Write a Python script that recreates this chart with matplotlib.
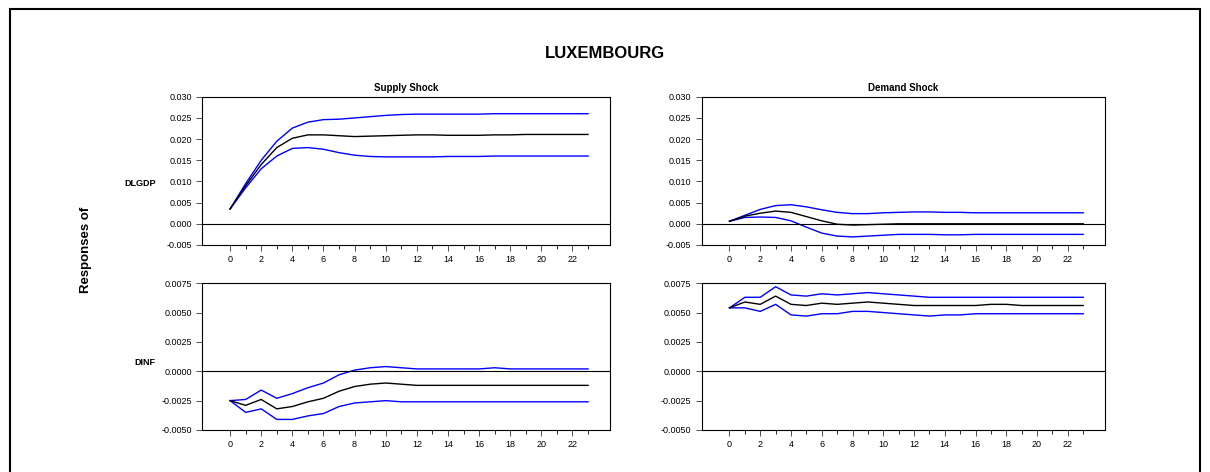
import numpy as np
import matplotlib
matplotlib.use("Agg")
import matplotlib.pyplot as plt
from matplotlib.ticker import MultipleLocator, FormatStrFormatter

plt.rcParams['font.family'] = ['Liberation Sans', 'DejaVu Sans']

periods = np.arange(24)

# supply shock -> DLGDP
sup_gdp_mid = [0.0035, 0.009, 0.014, 0.018, 0.0202, 0.021, 0.021, 0.0208, 0.0206, 0.0207, 0.0208, 0.0209,
               0.021, 0.021, 0.0209, 0.0209, 0.0209, 0.021, 0.021, 0.0211, 0.0211, 0.0211, 0.0211, 0.0211]
sup_gdp_up = [0.0035, 0.0095, 0.015, 0.0195, 0.0226, 0.024, 0.0246, 0.0247, 0.025, 0.0253, 0.0256, 0.0258,
              0.0259, 0.0259, 0.0259, 0.0259, 0.0259, 0.026, 0.026, 0.026, 0.026, 0.026, 0.026, 0.026]
sup_gdp_lo = [0.0035, 0.0085, 0.013, 0.016, 0.0178, 0.018, 0.0176, 0.0168, 0.0162, 0.0159, 0.0158, 0.0158,
              0.0158, 0.0158, 0.0159, 0.0159, 0.0159, 0.016, 0.016, 0.016, 0.016, 0.016, 0.016, 0.016]

# demand shock -> DLGDP
dem_gdp_mid = [0.0006, 0.0018, 0.0025, 0.003, 0.0027, 0.0017, 0.0007, -0.0001, -0.0003, -0.0002, -0.0001, 0.0,
               0.0, 0.0, 0.0, 0.0, 0.0, 0.0, 0.0, 0.0, 0.0, 0.0, 0.0, 0.0]
dem_gdp_up = [0.0006, 0.002, 0.0034, 0.0043, 0.0045, 0.004, 0.0033, 0.0027, 0.0024, 0.0024, 0.0026, 0.0027,
              0.0028, 0.0028, 0.0027, 0.0027, 0.0026, 0.0026, 0.0026, 0.0026, 0.0026, 0.0026, 0.0026, 0.0026]
dem_gdp_lo = [0.0006, 0.0015, 0.0016, 0.0015, 0.0007, -0.0008, -0.0022, -0.0029, -0.0031, -0.0029, -0.0027, -0.0025,
              -0.0025, -0.0025, -0.0026, -0.0026, -0.0025, -0.0025, -0.0025, -0.0025, -0.0025, -0.0025, -0.0025, -0.0025]

# supply shock -> DINF
sup_inf_mid = [-0.0025, -0.0029, -0.0024, -0.0032, -0.003, -0.0026, -0.0023, -0.0017, -0.0013, -0.0011, -0.001, -0.0011,
               -0.0012, -0.0012, -0.0012, -0.0012, -0.0012, -0.0012, -0.0012, -0.0012, -0.0012, -0.0012, -0.0012, -0.0012]
sup_inf_up = [-0.0025, -0.0024, -0.0016, -0.0023, -0.0019, -0.0014, -0.001, -0.0003, 0.0001, 0.0003, 0.0004, 0.0003,
              0.0002, 0.0002, 0.0002, 0.0002, 0.0002, 0.0003, 0.0002, 0.0002, 0.0002, 0.0002, 0.0002, 0.0002]
sup_inf_lo = [-0.0025, -0.0035, -0.0032, -0.0041, -0.0041, -0.0038, -0.0036, -0.003, -0.0027, -0.0026, -0.0025, -0.0026,
              -0.0026, -0.0026, -0.0026, -0.0026, -0.0026, -0.0026, -0.0026, -0.0026, -0.0026, -0.0026, -0.0026, -0.0026]

# demand shock -> DINF
dem_inf_mid = [0.0054, 0.0059, 0.0057, 0.0064, 0.0057, 0.0056, 0.0058, 0.0057, 0.0058, 0.0059, 0.0058, 0.0057,
               0.0056, 0.0056, 0.0056, 0.0056, 0.0056, 0.0057, 0.0057, 0.0056, 0.0056, 0.0056, 0.0056, 0.0056]
dem_inf_up = [0.0054, 0.0063, 0.0063, 0.0072, 0.0065, 0.0064, 0.0066, 0.0065, 0.0066, 0.0067, 0.0066, 0.0065,
              0.0064, 0.0063, 0.0063, 0.0063, 0.0063, 0.0063, 0.0063, 0.0063, 0.0063, 0.0063, 0.0063, 0.0063]
dem_inf_lo = [0.0054, 0.0054, 0.0051, 0.0057, 0.0048, 0.0047, 0.0049, 0.0049, 0.0051, 0.0051, 0.005, 0.0049,
              0.0048, 0.0047, 0.0048, 0.0048, 0.0049, 0.0049, 0.0049, 0.0049, 0.0049, 0.0049, 0.0049, 0.0049]

fig = plt.figure(figsize=(12.1, 4.72), dpi=100)

# border round the figure (runs off the bottom edge as in the original)
fig.patches.append(plt.Rectangle((0.008, -0.1), 0.984, 1.08, transform=fig.transFigure,
                                 fill=False, edgecolor='black', linewidth=1.5))

positions = {
    (0, 0): [0.167, 0.481, 0.337, 0.314],
    (0, 1): [0.580, 0.481, 0.333, 0.314],
    (1, 0): [0.167, 0.089, 0.337, 0.311],
    (1, 1): [0.580, 0.089, 0.333, 0.311],
}
panels = {
    (0, 0): (sup_gdp_mid, sup_gdp_up, sup_gdp_lo),
    (0, 1): (dem_gdp_mid, dem_gdp_up, dem_gdp_lo),
    (1, 0): (sup_inf_mid, sup_inf_up, sup_inf_lo),
    (1, 1): (dem_inf_mid, dem_inf_up, dem_inf_lo),
}

for (r, c), pos in positions.items():
    ax = fig.add_axes(pos)
    mid, up, lo = panels[(r, c)]
    ax.plot(periods, up, color='#0000ff', lw=1)
    ax.plot(periods, lo, color='#0000ff', lw=1)
    ax.plot(periods, mid, color='black', lw=1)
    ax.axhline(0, color='black', lw=0.8)
    ax.set_xlim(-1.8, 24.4)
    if r == 0:
        ax.set_ylim(-0.005, 0.030)
        ax.yaxis.set_major_locator(MultipleLocator(0.005))
        ax.yaxis.set_major_formatter(FormatStrFormatter('%.3f'))
    else:
        ax.set_ylim(-0.005, 0.0075)
        ax.yaxis.set_major_locator(MultipleLocator(0.0025))
        ax.yaxis.set_major_formatter(FormatStrFormatter('%.4f'))
    ax.set_xticks(np.arange(0, 24, 2))
    ax.set_xticks(np.arange(0, 24, 1), minor=True)
    ax.tick_params(labelsize=6.5, length=4, width=0.6, colors='#333333', labelcolor='black')
    ax.tick_params(which='minor', length=3, width=0.6)
    for s in ax.spines.values():
        s.set_linewidth(0.8)
    if r == 0:
        ax.set_title(['Supply Shock', 'Demand Shock'][c], fontsize=7, fontweight='bold', pad=4)

fig.text(0.5, 0.887, 'LUXEMBOURG', ha='center', va='center', fontsize=12, fontweight='bold')
fig.text(0.071, 0.47, 'Responses of', rotation=90, ha='center', va='center', fontsize=9.5, fontweight='bold')
fig.text(0.116, 0.612, 'DLGDP', ha='center', va='center', fontsize=6.5, fontweight='bold')
fig.text(0.12, 0.233, 'DINF', ha='center', va='center', fontsize=6.5, fontweight='bold')

fig.savefig('out.png', dpi=100)
